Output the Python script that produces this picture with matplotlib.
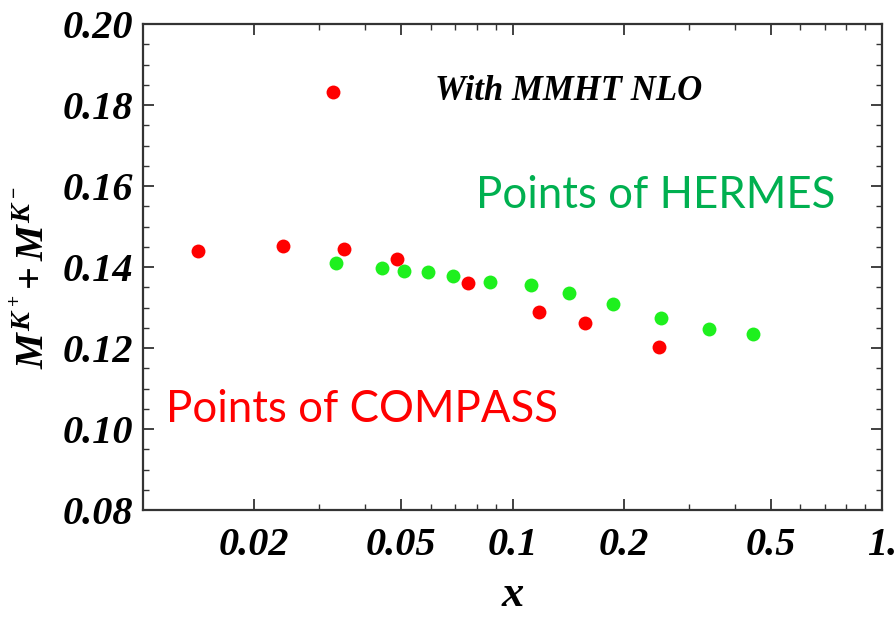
import numpy as np
import matplotlib
matplotlib.use("Agg")
from matplotlib import pyplot as plt
from matplotlib.ticker import FixedLocator, FixedFormatter

plt.rcParams['mathtext.fontset'] = 'custom'
plt.rcParams['mathtext.rm'] = 'Liberation Serif:bold'
plt.rcParams['mathtext.it'] = 'Liberation Serif:italic:bold'
plt.rcParams['mathtext.bf'] = 'Liberation Serif:italic:bold'

# COMPASS points (red)
compass_x = [0.0141, 0.0239, 0.0349, 0.0487, 0.0760, 0.1182, 0.1575, 0.2495]
compass_y = [0.1440, 0.1453, 0.1444, 0.1421, 0.1360, 0.1290, 0.1262, 0.1202]
# isolated red point near the top
extra_x = [0.0326]
extra_y = [0.1832]

# HERMES points (green)
hermes_x = [0.0332, 0.0442, 0.0509, 0.0589, 0.0688, 0.0869, 0.1122, 0.1420,
            0.1868, 0.2522, 0.3408, 0.4486]
hermes_y = [0.1411, 0.1397, 0.1391, 0.1387, 0.1379, 0.1364, 0.1355, 0.1337,
            0.1309, 0.1275, 0.1248, 0.1234]

x_major = [0.02, 0.05, 0.1, 0.2, 0.5, 1.0]
x_major_labels = ['0.02', '0.05', '0.1', '0.2', '0.5', '1.']
x_minor = [0.03, 0.04, 0.06, 0.07, 0.08, 0.09, 0.3, 0.4, 0.6, 0.7, 0.8, 0.9]
y_major = [0.08, 0.10, 0.12, 0.14, 0.16, 0.18, 0.20]
y_major_labels = ['0.08', '0.10', '0.12', '0.14', '0.16', '0.18', '0.20']
y_minor = np.arange(0.08, 0.2001, 0.005)

tick_font = dict(family='Liberation Serif', weight='bold', style='italic', size=29)

fig = plt.figure(figsize=(8.94, 6.22), dpi=100)
ax = fig.add_axes([0.16, 0.18, 0.8266, 0.7814])

ax.plot(compass_x, compass_y, 'o', color='#ff0000', markersize=10, markeredgewidth=0)
ax.plot(extra_x, extra_y, 'o', color='#ff0000', markersize=10, markeredgewidth=0)
ax.plot(hermes_x, hermes_y, 'o', color='#1ef01e', markersize=10, markeredgewidth=0)

ax.set_xscale('log')
ax.set_xlim(0.01, 1.0)
ax.set_ylim(0.08, 0.20)

ax.xaxis.set_major_locator(FixedLocator(x_major))
ax.xaxis.set_major_formatter(FixedFormatter(x_major_labels))
ax.xaxis.set_minor_locator(FixedLocator(x_minor))
ax.xaxis.set_minor_formatter(FixedFormatter([]))
ax.yaxis.set_major_locator(FixedLocator(y_major))
ax.yaxis.set_major_formatter(FixedFormatter(y_major_labels))
ax.yaxis.set_minor_locator(FixedLocator(y_minor))

ax.tick_params(which='both', direction='in', top=True, right=True, color='#333333')
ax.tick_params(which='major', length=8, width=1.3)
ax.tick_params(which='minor', length=4, width=1.0)
ax.tick_params(axis='x', which='major', pad=12)
ax.tick_params(axis='y', which='major', pad=7)
for lab in ax.get_xticklabels() + ax.get_yticklabels():
    lab.set_fontproperties(matplotlib.font_manager.FontProperties(**tick_font))

for sp in ax.spines.values():
    sp.set_linewidth(1.6)
    sp.set_color('#333333')

ax.set_xlabel(r'$x$', fontsize=32, labelpad=6)
ax.set_ylabel(r'$M^{K^+}\!+M^{K^-}$', fontsize=29)
ax.yaxis.set_label_coords(-0.121, 0.479)

ax.text(0.5765, 0.862, 'With MMHT NLO', transform=ax.transAxes, ha='center', va='center',
        family='Liberation Serif', weight='bold', style='italic', fontsize=25)
ax.text(0.694, 0.648, 'Points of HERMES', transform=ax.transAxes, ha='center', va='center',
        family='Lato', color='#00b050', fontsize=31.5)
ax.text(0.2957, 0.206, 'Points of COMPASS', transform=ax.transAxes, ha='center', va='center',
        family='Lato', color='#ff0000', fontsize=31.5)

fig.savefig('out.png', dpi=100)
